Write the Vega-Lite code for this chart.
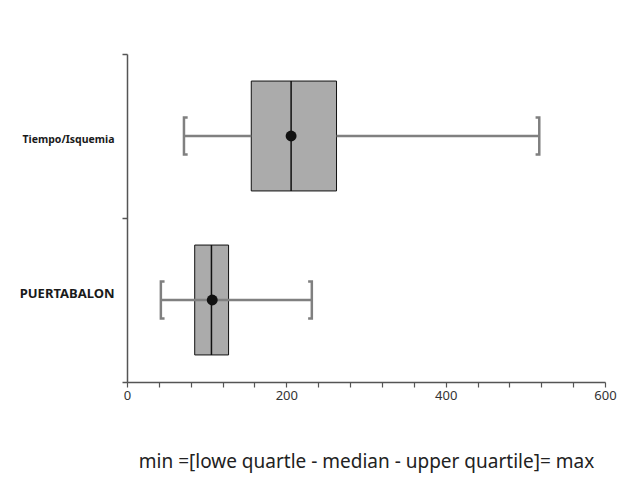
{
  "$schema": "https://vega.github.io/schema/vega-lite/v6.json",
  "width": 478,
  "height": 328,
  "autosize": {"type": "none"},
  "padding": {"left": 127, "top": 54, "right": 20, "bottom": 113},
  "background": "white",
  "config": {"view": {"stroke": null}, "font": "Noto Sans"},
  "datasets": {
    "boxes": [
      {"group": "Tiempo/Isquemia", "min": 71.5, "q1": 156, "median": 206, "mean": 206, "q3": 263, "max": 517.5},
      {"group": "PUERTABALON", "min": 42.5, "q1": 85, "median": 106, "mean": 107, "q3": 127.5, "max": 232}
    ],
    "whiskers": [
      {"group": "Tiempo/Isquemia", "from": 71.5, "to": 156},
      {"group": "Tiempo/Isquemia", "from": 263, "to": 517.5},
      {"group": "PUERTABALON", "from": 42.5, "to": 232}
    ]
  },
  "encoding": {
    "y": {
      "field": "group",
      "type": "nominal",
      "sort": ["Tiempo/Isquemia", "PUERTABALON"],
      "scale": {"paddingInner": 0, "paddingOuter": 0},
      "axis": {
        "title": null,
        "tickBand": "extent",
        "tickSize": 5,
        "tickColor": "#555555",
        "tickWidth": 1.5,
        "domainColor": "#555555",
        "domainWidth": 1.5,
        "labelPadding": 8,
        "labelFont": "Noto Sans",
        "labelFontWeight": "bold",
        "labelColor": "#1a1a1a",
        "labelFontSize": {"expr": "datum.value == 'PUERTABALON' ? 13 : 10.5"},
        "labelOffset": {"expr": "datum.value == 'PUERTABALON' ? -7 : 3"},
        "labelLimit": 200
      }
    }
  },
  "layer": [
    {
      "data": {"name": "boxes"},
      "mark": {"type": "bar", "fill": "#ababab", "stroke": "#111111", "strokeWidth": 1, "height": {"band": 0.67}},
      "encoding": {
        "x": {
          "field": "q1",
          "type": "quantitative",
          "scale": {"domain": [0, 600], "nice": false, "zero": true},
          "axis": {
            "values": [0, 40, 80, 120, 160, 200, 240, 280, 320, 360, 400, 440, 480, 520, 560, 600],
            "tickCount": 100,
            "labelExpr": "datum.value % 200 == 0 ? datum.label : ''",
            "labelOverlap": false,
            "labelBound": false,
            "grid": false,
            "tickSize": 5,
            "tickColor": "#555555",
            "tickWidth": 1.2,
            "domainColor": "#555555",
            "domainWidth": 1.5,
            "labelFont": "Noto Sans",
            "labelFontSize": 13,
            "labelColor": "#333333",
            "labelPadding": 2,
            "labelFlush": false,
            "title": "min =[lowe quartle - median - upper quartile]= max",
            "titleFont": "Noto Sans",
            "titleFontSize": 19,
            "titleFontWeight": "normal",
            "titleColor": "#222222",
            "titlePadding": 50
          }
        },
        "x2": {"field": "q3"}
      }
    },
    {
      "data": {"name": "whiskers"},
      "mark": {"type": "rule", "color": "#808080", "strokeWidth": 2.5},
      "encoding": {
        "x": {"field": "from", "type": "quantitative"},
        "x2": {"field": "to"}
      }
    },
    {
      "data": {"name": "boxes"},
      "mark": {"type": "point", "shape": "M0.2,-1L0,-1L0,1L0.2,1", "size": 1369, "filled": false, "stroke": "#808080", "strokeWidth": 2.5, "opacity": 1},
      "encoding": {
        "x": {"field": "min", "type": "quantitative"}
      }
    },
    {
      "data": {"name": "boxes"},
      "mark": {"type": "point", "shape": "M-0.2,-1L0,-1L0,1L-0.2,1", "size": 1369, "filled": false, "stroke": "#808080", "strokeWidth": 2.5, "opacity": 1},
      "encoding": {
        "x": {"field": "max", "type": "quantitative"}
      }
    },
    {
      "data": {"name": "boxes"},
      "mark": {"type": "tick", "orient": "vertical", "size": 110, "thickness": 1.5, "color": "#111111", "opacity": 1},
      "encoding": {
        "x": {"field": "median", "type": "quantitative"}
      }
    },
    {
      "data": {"name": "boxes"},
      "mark": {"type": "point", "filled": true, "size": 120, "color": "#111111", "opacity": 1},
      "encoding": {
        "x": {"field": "mean", "type": "quantitative"}
      }
    }
  ]
}
